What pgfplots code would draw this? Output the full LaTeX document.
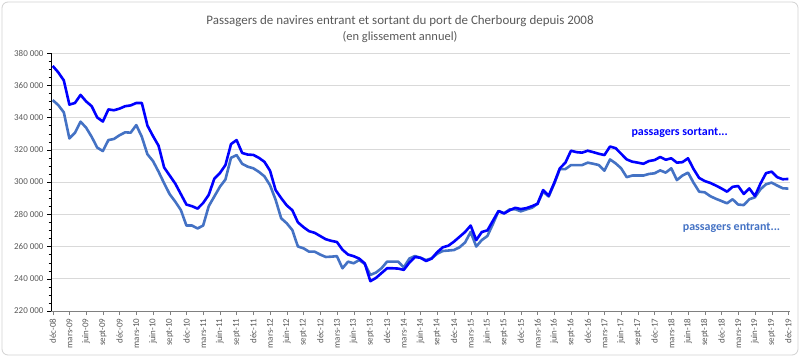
\documentclass[border=0pt]{standalone}
\usepackage{fontspec}
\setmainfont{Carlito}
\usepackage{pgfplots}
\pgfplotsset{compat=1.18}
\usepackage{pgfplotstable}
\definecolor{sortant}{RGB}{0,0,255}
\definecolor{entrant}{RGB}{68,114,196}
\definecolor{txtgray}{RGB}{89,89,89}
\definecolor{gridgray}{RGB}{217,217,217}
\definecolor{framegray}{RGB}{210,210,210}

\pgfplotstableread{
i s e
0 372000 350800
1 368000 347700
2 363000 343200
3 348000 327000
4 349000 330500
5 354000 337400
6 350000 333700
7 347000 328000
8 340000 321300
9 337500 319200
10 345000 326000
11 344500 326700
12 345500 329000
13 347000 330800
14 347500 330600
15 349000 335300
16 349000 328000
17 335000 317200
18 328500 313000
19 322500 306400
20 309000 299200
21 304000 292400
22 299000 287800
23 292500 282600
24 286000 273000
25 285000 273000
26 283500 271200
27 287000 273000
28 292000 285000
29 302000 291000
30 305500 297000
31 310500 301600
32 323500 315000
33 326000 316700
34 318000 311300
35 317000 309500
36 316800 308500
37 315000 306300
38 312500 303500
39 307000 298000
40 295000 289000
41 290000 277500
42 285500 274400
43 282500 270200
44 275000 260000
45 272000 258900
46 269500 256800
47 268500 256800
48 266500 255000
49 264500 253500
50 263500 253700
51 262800 254000
52 258000 246500
53 255000 250600
54 254000 249600
55 252500 251600
56 249500 249200
57 238500 242400
58 240500 243800
59 243500 246500
60 246500 250600
61 246500 250600
62 246300 250600
63 245500 247000
64 250000 252500
65 253500 254100
66 253000 253000
67 251000 251600
68 252500 252700
69 256500 255500
70 259500 257200
71 260500 257500
72 263000 257800
73 266000 259500
74 269000 262500
75 273000 269000
76 264000 260000
77 269000 264000
78 270000 266500
79 276000 274000
80 282000 282000
81 280500 280600
82 282500 283000
83 284000 283100
84 283200 281800
85 283800 283000
86 285000 284000
87 286500 286500
88 295000 294000
89 291500 291000
90 299500 299000
91 308500 308000
92 312000 308000
93 319400 310500
94 318500 310500
95 318200 310500
96 319400 312000
97 318500 311300
98 317500 310500
99 316700 307000
100 322000 314000
101 321000 311600
102 317500 308500
103 314000 303000
104 312600 304000
105 312000 304000
106 311300 304000
107 313000 305000
108 313600 305400
109 315500 307200
110 313800 305800
111 314700 308500
112 312000 301200
113 312300 304000
114 314700 305800
115 308000 299500
116 302500 294000
117 300600 293600
118 299400 291200
119 297800 289600
120 296000 288200
121 294000 286800
122 297000 289300
123 297500 286000
124 292600 285700
125 296000 289300
126 291300 290500
127 299000 295500
128 305500 298600
129 306400 299600
130 303000 297800
131 301700 296100
132 301900 295900
}\datatable

\begin{document}
\begin{tikzpicture}
\begin{axis}[
  scale only axis, width=739bp, height=258bp,
  xmin=-0.3, xmax=132.3, ymin=220000, ymax=380000,
  axis lines*=left,
  x axis line style={draw=gray, -},
  y axis line style={draw=black, -},
  scaled y ticks=false,
  ytick={220000,240000,260000,280000,300000,320000,340000,360000,380000},
  yticklabels={220 000,240 000,260 000,280 000,300 000,320 000,340 000,360 000,380 000},
  minor y tick num=3,
  ymajorgrids, grid style={gridgray, line width=0.9bp},
  xtick={0,3,...,132},
  xticklabels={déc-08,mars-09,juin-09,sept-09,déc-09,mars-10,juin-10,sept-10,déc-10,mars-11,juin-11,sept-11,déc-11,mars-12,juin-12,sept-12,déc-12,mars-13,juin-13,sept-13,déc-13,mars-14,juin-14,sept-14,déc-14,mars-15,juin-15,sept-15,déc-15,mars-16,juin-16,sept-16,déc-16,mars-17,juin-17,sept-17,déc-17,mars-18,juin-18,sept-18,déc-18,mars-19,juin-19,sept-19,déc-19},
  tick align=outside,
  major tick length=4bp, minor tick length=2.5bp,
  x tick style={draw=gray},
  y tick style={draw=black},
  yticklabel style={font=\fontsize{9}{10}\selectfont, text=txtgray},
  xticklabel style={rotate=90, anchor=east, font=\fontsize{9}{10}\selectfont, text=txtgray},
  clip=false,
]
\addplot[entrant, line width=2.6bp, line join=round] table[x=i, y=e] {\datatable};
\addplot[sortant, line width=2.6bp, line join=round] table[x=i, y=s] {\datatable};
\node[font=\bfseries\fontsize{12}{13}\selectfont, text=sortant] at (axis cs:112.5,330400) {passagers sortant...};
\node[font=\bfseries\fontsize{12}{13}\selectfont, text=entrant] at (axis cs:121.8,271500) {passagers entrant...};
\end{axis}
\node[font=\fontsize{13}{15}\selectfont, text=txtgray] at (349bp,290bp) {Passagers de navires entrant et sortant du port de Cherbourg depuis 2008};
\node[font=\fontsize{12.5}{14}\selectfont, text=txtgray] at (349bp,274bp) {(en glissement annuel)};
\draw[framegray, line width=0.8bp, rounded corners=6bp] (-49bp,-44bp) rectangle (747bp,309bp);
\path[use as bounding box] (-51bp,-47bp) rectangle (749bp,311bp);
\end{tikzpicture}
\end{document}
